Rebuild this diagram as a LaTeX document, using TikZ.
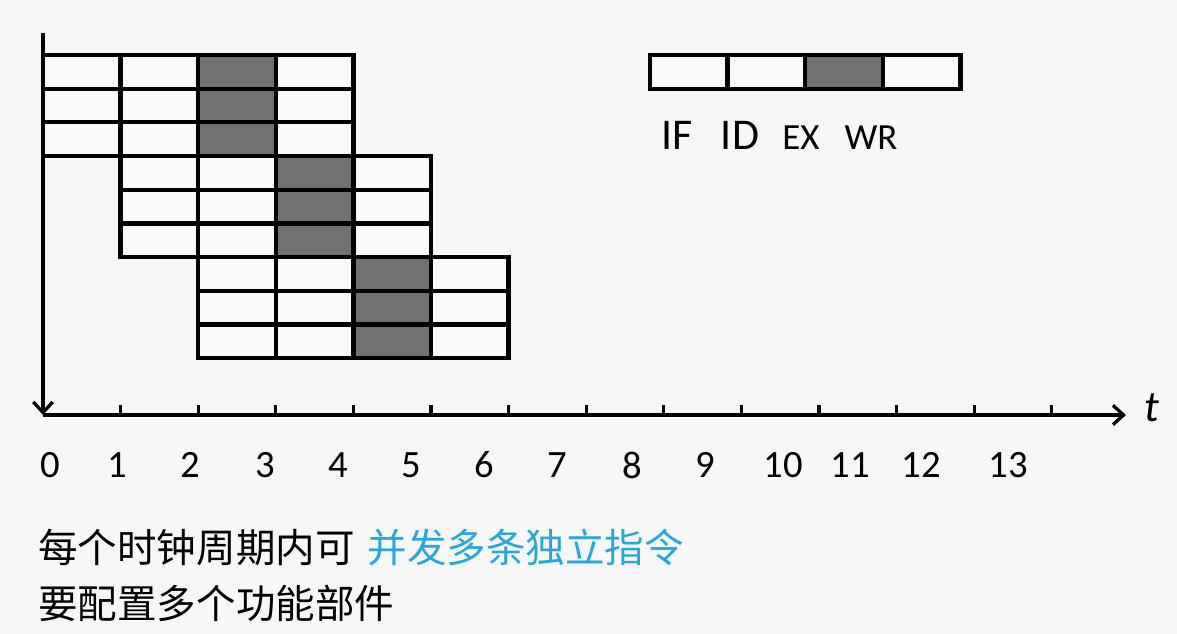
\documentclass[tikz,border=0pt]{standalone}
\usepackage{fontspec}
\setmainfont{Carlito}
\newfontfamily\cjk{Noto Sans CJK SC}
\usetikzlibrary{arrows.meta,positioning,calc}
\definecolor{bgc}{RGB}{247,247,247}
\definecolor{cellc}{RGB}{250,250,250}
\definecolor{exc}{RGB}{113,113,113}
\definecolor{hl}{RGB}{41,166,222}

\begin{document}
\begin{tikzpicture}[>={Straight Barb[length=6pt,width=11pt]},font=\fontsize{22}{24}\selectfont,
 cell/.style={draw,line width=2.4pt,fill=cellc,anchor=north west,inner sep=0pt,outer sep=0pt,minimum width=1.552cm,minimum height=0.674cm},
 excell/.style={cell,fill=exc},
 stg/.style={inner sep=0pt},
 num/.style={inner sep=0pt}]
\fill[bgc] (-0.86,8.3) rectangle (22.68,-4.38);
\useasboundingbox (-0.86,8.3) rectangle (22.68,-4.38);
% three groups of three instructions, four stages each
\foreach \g in {0,1,2}
 \foreach \k in {0,1,2}
  \foreach \s in {0,1,2,3} {
   \pgfmathsetmacro{\cx}{(\g+\s)*1.552}
   \pgfmathsetmacro{\cy}{7.2-(3*\g+\k)*0.674}
   \ifnum\s=2
    \node[excell] (c\g\k\s) at (\cx,\cy) {};
   \else
    \node[cell] (c\g\k\s) at (\cx,\cy) {};
   \fi
  }
% legend
\foreach \s in {0,1,2,3} {
 \pgfmathsetmacro{\cx}{12.14+\s*1.552}
 \ifnum\s=2
  \node[excell] (l\s) at (\cx,7.2) {};
 \else
  \node[cell] (l\s) at (\cx,7.2) {};
 \fi
}
\node[stg,font=\fontsize{25}{26}\selectfont] (if) at (12.68,5.6) {IF};
\node[stg,font=\fontsize{25}{26}\selectfont] (id) at (13.94,5.6) {ID};
\node[stg,font=\fontsize{21}{22}\selectfont] (ex) at (15.16,5.55) {EX};
\node[stg,font=\fontsize{21}{22}\selectfont] (wr) at (16.56,5.55) {WR};
% axes
\coordinate (O) at (0,0);
\coordinate (ytop) at (0,7.64);
\coordinate (xend) at (21.66,0);
\draw[line width=1.9pt,->] (ytop) -- (O);
\draw[line width=1.9pt,->] (O) -- (xend);
\foreach \i in {1,...,13} {
 \coordinate (tk\i) at (\i*1.552,0);
 \draw[line width=1.9pt] (tk\i) -- ++(0,0.2);
}
\node[inner sep=0pt,font=\itshape\fontsize{25}{26}\selectfont] (t) at (22.18,0.14) {t};
\foreach \i/\x in {0/0.14,1/1.48,2/2.94,3/4.44,4/5.9,5/7.36,6/8.82,7/10.28,8/11.78,9/13.24,10/14.8,11/16.14,12/17.56,13/19.3}
 \node[num] (n\i) at (\x,-1.0) {\i};
% caption lines
\node[anchor=west,inner sep=0pt,font=\cjk\fontsize{22.5}{26}\selectfont] (ln1) at (-0.1,-2.66) {每个时钟周期内可\hspace{0.26cm}\textcolor{hl}{并发多条独立指令}};
\node[anchor=west,inner sep=0pt,font=\cjk\fontsize{22.5}{26}\selectfont] (ln2) at (-0.1,-3.76) {要配置多个功能部件};
\end{tikzpicture}
\end{document}
